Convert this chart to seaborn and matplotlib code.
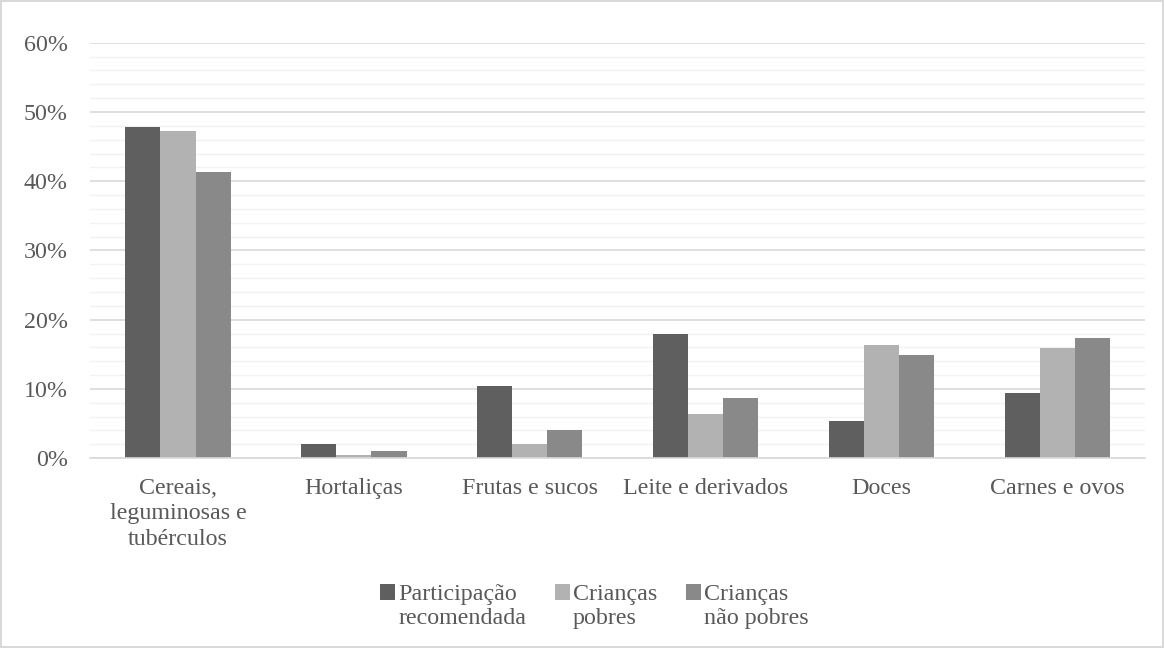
import matplotlib
matplotlib.use("Agg")
import matplotlib.pyplot as plt
import seaborn as sns
import pandas as pd
import numpy as np

categories = ["Cereais,\nleguminosas e\ntubérculos", "Hortaliças", "Frutas e sucos",
              "Leite e derivados", "Doces", "Carnes e ovos"]
series_names = ["Participação\nrecomendada", "Crianças\npobres", "Crianças\nnão pobres"]
recomendada = [47.8, 2.1, 10.4, 18.0, 5.4, 9.4]
pobres = [47.2, 0.5, 2.1, 6.4, 16.4, 15.9]
nao_pobres = [41.4, 1.0, 4.0, 8.7, 14.9, 17.4]
colors = ["#5f5f5f", "#b2b2b2", "#898989"]

rows = []
for name, vals in zip(series_names, [recomendada, pobres, nao_pobres]):
    for c, v in zip(categories, vals):
        rows.append({"cat": c, "serie": name, "val": v})
df = pd.DataFrame(rows)

sns.set_theme(style="white")
plt.rcParams["font.family"] = ["Liberation Serif", "DejaVu Serif"]

FS = 17.3
fig = plt.figure(figsize=(11.64, 6.48), dpi=100, linewidth=1.5, edgecolor="#d9d9d9")
ax = fig.add_axes([0.0773, 0.293, 0.9067, 0.641])

sns.barplot(data=df, x="cat", y="val", hue="serie", palette=colors, width=0.6,
            saturation=1, ax=ax, errorbar=None, edgecolor="none")

ax.set_ylim(0, 60)
ax.set_xlim(-0.5, 5.5)
ax.set_yticks(np.arange(0, 61, 10))
ax.set_yticklabels([f"{t}%" for t in range(0, 61, 10)], fontsize=FS, color="#595959")
ax.set_yticks(np.arange(0, 61, 2), minor=True)
ax.grid(axis="y", which="major", color="#d9d9d9", linewidth=1.2)
ax.grid(axis="y", which="minor", color="#f2f2f2", linewidth=1.0)
ax.set_axisbelow(True)
ax.tick_params(axis="both", which="both", length=0)
ax.tick_params(axis="y", pad=16)
ax.tick_params(axis="x", pad=14)
ax.set_xticks(range(len(categories)))
ax.set_xticklabels(categories, fontsize=FS, color="#595959", linespacing=1.28)
ax.set_xlabel("")
ax.set_ylabel("")
for s in ["top", "right", "left"]:
    ax.spines[s].set_visible(False)
ax.spines["bottom"].set_color("#d9d9d9")
ax.spines["bottom"].set_linewidth(1.2)

handles, labels = ax.get_legend_handles_labels()
leg = ax.legend(handles, labels, ncol=3, loc="center", bbox_to_anchor=(0.478, -0.358),
                frameon=False, fontsize=FS, handlelength=0.62, handleheight=0.62,
                handletextpad=0.13, columnspacing=1.2, labelcolor="#595959")
for t in leg.get_texts():
    t.set_linespacing(1.2)
for col in leg._legend_handle_box.get_children():
    for item in col.get_children():
        item.align = "top"

fig.savefig("out.png", dpi=100)
